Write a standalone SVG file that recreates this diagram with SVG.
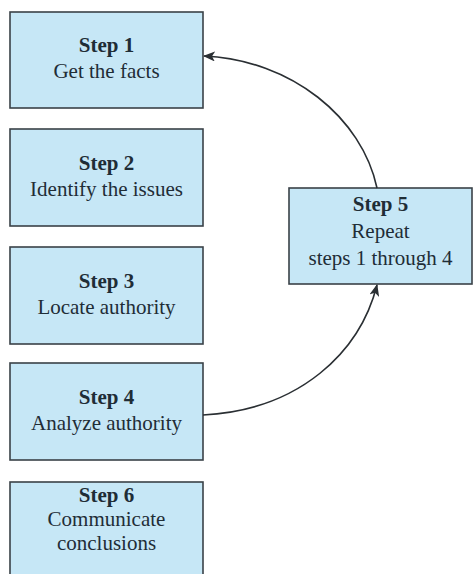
<svg xmlns="http://www.w3.org/2000/svg" width="473" height="574" viewBox="0 0 473 574">
  <style>
    .box { fill: #c6e7f6; stroke: #3a4248; stroke-width: 1.6; }
    .t { font-family: "Liberation Serif", "Times New Roman", serif; font-size: 21px; fill: #1f2d36; text-anchor: middle; }
    .h { font-weight: bold; }
    .conn { fill: none; stroke: #2a2f33; stroke-width: 1.6; }
  </style>
  <defs>
    <marker id="arrow" viewBox="0 0 12 10" refX="11" refY="5" markerWidth="12" markerHeight="10" markerUnits="userSpaceOnUse" orient="auto">
      <path d="M0,0 L12,5 L0,10 L3,5 Z" fill="#2a2f33"/>
    </marker>
  </defs>
  <rect width="473" height="574" fill="#ffffff"/>

  <g id="step1">
    <rect class="box" x="10" y="12" width="193" height="96"/>
    <text class="t h" x="106.5" y="52">Step 1</text>
    <text class="t" x="106.5" y="78">Get the facts</text>
  </g>
  <g id="step2">
    <rect class="box" x="10" y="129" width="193" height="97"/>
    <text class="t h" x="106.5" y="170">Step 2</text>
    <text class="t" x="106.5" y="196">Identify the issues</text>
  </g>
  <g id="step3">
    <rect class="box" x="10" y="247" width="193" height="97"/>
    <text class="t h" x="106.5" y="288">Step 3</text>
    <text class="t" x="106.5" y="314">Locate authority</text>
  </g>
  <g id="step4">
    <rect class="box" x="10" y="363" width="193" height="97"/>
    <text class="t h" x="106.5" y="404">Step 4</text>
    <text class="t" x="106.5" y="430">Analyze authority</text>
  </g>
  <g id="step6">
    <rect class="box" x="10" y="482" width="193" height="110"/>
    <text class="t h" x="106.5" y="502">Step 6</text>
    <text class="t" x="106.5" y="526">Communicate</text>
    <text class="t" x="106.5" y="550">conclusions</text>
  </g>
  <g id="step5">
    <rect class="box" x="289" y="188" width="183" height="96"/>
    <text class="t h" x="380.5" y="211">Step 5</text>
    <text class="t" x="380.5" y="238">Repeat</text>
    <text class="t" x="380.5" y="265">steps 1 through 4</text>
  </g>

  <g id="connectors">
    <path class="conn" d="M377,188 C362,118 292,60 204,56" marker-end="url(#arrow)"/>
    <path class="conn" d="M203,415 C300,410 360,352 377,285" marker-end="url(#arrow)"/>
  </g>
</svg>
